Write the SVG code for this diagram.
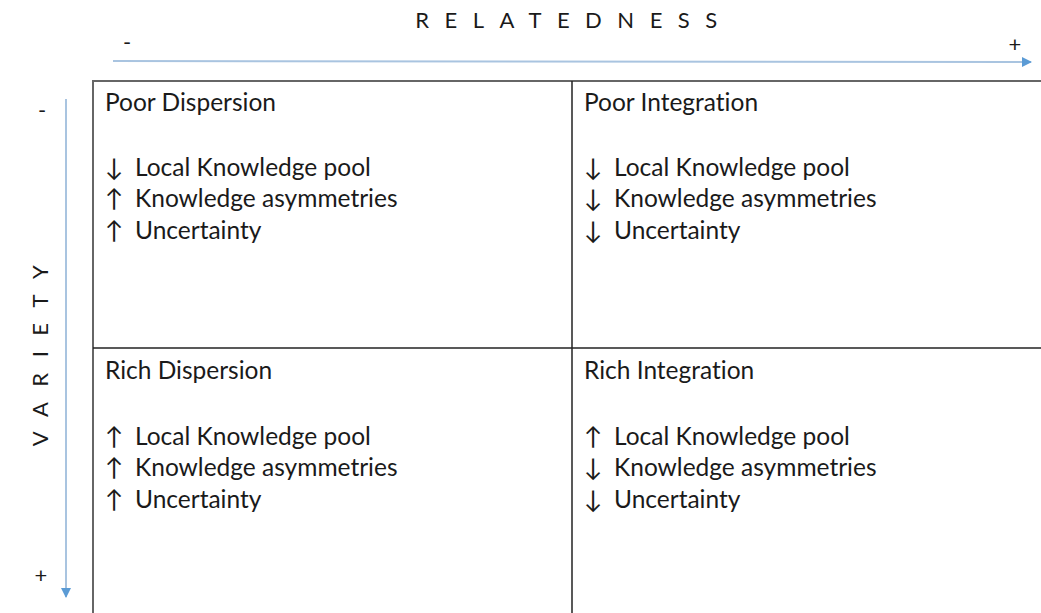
<svg xmlns="http://www.w3.org/2000/svg" width="1041" height="613" viewBox="0 0 1041 613">
  <style>
    .t { font-family: Lato, "Open Sans", sans-serif; font-size: 24.5px; fill: #1a1a1a; font-variant-ligatures: none; }
    .ax { font-family: Lato, "Open Sans", sans-serif; font-size: 22px; fill: #1a1a1a; }
    .axis { stroke: #a9c4e0; stroke-width: 2; fill: none; }
    .grid { stroke: #222; stroke-width: 1.5; fill: none; }
    .frame { stroke: #666; stroke-width: 2; fill: none; }
  </style>
  <defs>
    <marker id="tip" viewBox="0 0 10 10" refX="9" refY="5" markerWidth="5" markerHeight="5" orient="auto" markerUnits="strokeWidth">
      <path d="M0,0 L10,5 L0,10 Z" fill="#5b9bd5"/>
    </marker>
  </defs>
  <rect width="1041" height="613" fill="#fff"/>

  <!-- axis titles and end labels -->
  <g id="axis-labels">
    <text class="ax" x="574" y="28" text-anchor="middle" letter-spacing="15.5">RELATEDNESS</text>
    <text class="ax" x="127" y="50" text-anchor="middle">-</text>
    <text class="ax" x="1015" y="52" text-anchor="middle">+</text>
    <text class="ax" transform="translate(48,348) rotate(-90)" text-anchor="middle" letter-spacing="15.5">VARIETY</text>
    <text class="ax" x="42" y="118" text-anchor="middle">-</text>
    <text class="ax" x="41" y="583" text-anchor="middle">+</text>
  </g>

  <!-- axis arrows -->
  <g id="connectors">
    <line class="axis" x1="113" y1="61" x2="1031" y2="62" marker-end="url(#tip)"/>
    <line class="axis" x1="66" y1="99" x2="66" y2="597" marker-end="url(#tip)"/>
  </g>

  <!-- quadrant grid -->
  <g id="grid">
    <path class="frame" d="M1041,81 H93 V613"/>
    <line class="grid" x1="572" y1="81" x2="572" y2="613"/>
    <line class="grid" x1="93" y1="348" x2="1041" y2="348"/>
  </g>

  <g id="poor-dispersion">
    <text class="t" x="105" y="111">Poor Dispersion</text>
    <text class="t" y="176"><tspan x="105">↓</tspan><tspan x="135">Local Knowledge pool</tspan></text>
    <text class="t" y="207"><tspan x="105">↑</tspan><tspan x="135">Knowledge asymmetries</tspan></text>
    <text class="t" y="239"><tspan x="105">↑</tspan><tspan x="135">Uncertainty</tspan></text>
  </g>

  <g id="poor-integration">
    <text class="t" x="584" y="111">Poor Integration</text>
    <text class="t" y="176"><tspan x="584">↓</tspan><tspan x="614">Local Knowledge pool</tspan></text>
    <text class="t" y="207"><tspan x="584">↓</tspan><tspan x="614">Knowledge asymmetries</tspan></text>
    <text class="t" y="239"><tspan x="584">↓</tspan><tspan x="614">Uncertainty</tspan></text>
  </g>

  <g id="rich-dispersion">
    <text class="t" x="105" y="379">Rich Dispersion</text>
    <text class="t" y="445"><tspan x="105">↑</tspan><tspan x="135">Local Knowledge pool</tspan></text>
    <text class="t" y="476"><tspan x="105">↑</tspan><tspan x="135">Knowledge asymmetries</tspan></text>
    <text class="t" y="508"><tspan x="105">↑</tspan><tspan x="135">Uncertainty</tspan></text>
  </g>

  <g id="rich-integration">
    <text class="t" x="584" y="379">Rich Integration</text>
    <text class="t" y="445"><tspan x="584">↑</tspan><tspan x="614">Local Knowledge pool</tspan></text>
    <text class="t" y="476"><tspan x="584">↓</tspan><tspan x="614">Knowledge asymmetries</tspan></text>
    <text class="t" y="508"><tspan x="584">↓</tspan><tspan x="614">Uncertainty</tspan></text>
  </g>
</svg>
